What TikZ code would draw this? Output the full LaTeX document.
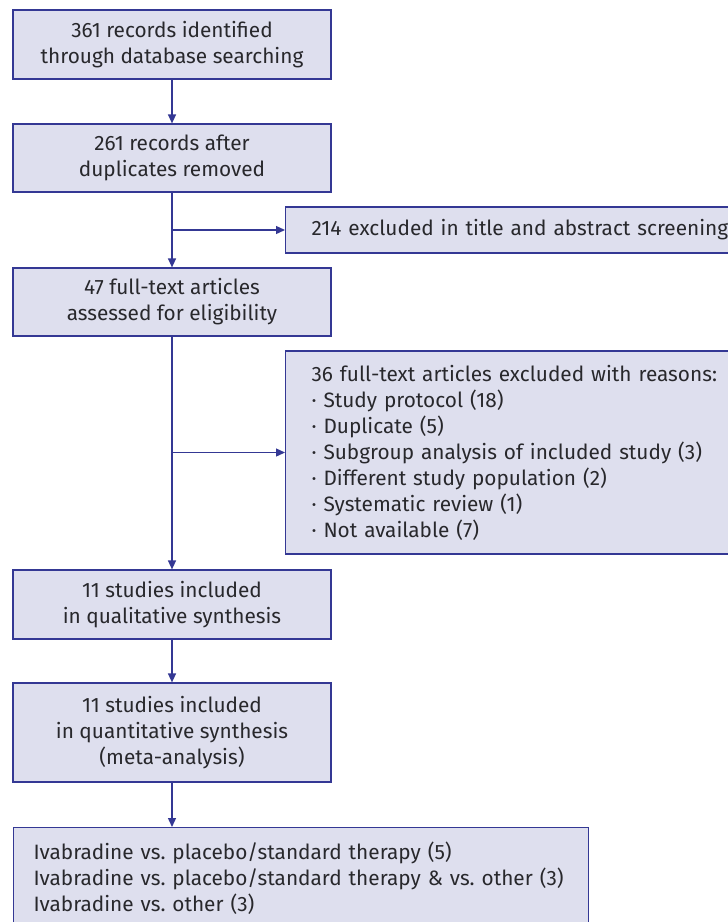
\documentclass[tikz,border=0pt]{standalone}
\usepackage{fontspec}
\setmainfont{Fira Sans}
\usetikzlibrary{arrows.meta, positioning}
\definecolor{boxfill}{RGB}{222,223,238}
\definecolor{boxline}{RGB}{52,56,148}
\definecolor{ink}{RGB}{40,40,44}
\frenchspacing

\begin{document}
\begin{tikzpicture}[
    x=1pt, y=-1pt,
    every node/.style={font=\fontsize{20.8}{26}\selectfont, text=ink},
    flowbox/.style={draw=boxline, line width=1.2pt, fill=boxfill, align=center, minimum width=318pt, inner sep=0pt},
    sidebox/.style={draw=boxline, line width=1.2pt, fill=boxfill, align=left, inner xsep=26pt, inner ysep=0pt, anchor=west},
    flow/.style={-{Triangle[length=9pt, width=8pt]}, draw=boxline, line width=1.3pt}
]
\clip (0,0) rectangle (728,922);
\node[flowbox, minimum height=69pt] (ident) at (172,44.5) {361 records identified\\through database searching};
\node[flowbox, minimum height=68pt] (dedup) at (172,158) {261 records after\\duplicates removed};
\node[sidebox, minimum height=46pt, text width=460pt] (screen) at (285,230) {214 excluded in title and abstract screening};
\node[flowbox, minimum height=68pt] (full) at (172,302) {47 full-text articles\\assessed for eligibility};
\node[sidebox, minimum height=203pt, text width=460pt] (reasons) at (285,452.5) {36 full-text articles excluded with reasons:\\
    · Study protocol (18)\\
    · Duplicate (5)\\
    · Subgroup analysis of included study (3)\\
    · Different study population (2)\\
    · Systematic review (1)\\
    · Not available (7)};
\node[flowbox, minimum height=69pt] (qual) at (172,604.5) {11 studies included\\in qualitative synthesis};
\node[flowbox, minimum height=99pt] (quant) at (172,732.5) {11 studies included\\in quantitative synthesis\\(meta-analysis)};
\node[sidebox, anchor=north west, inner xsep=20pt, minimum height=102pt, text width=535pt] (groups) at (13,827) {Ivabradine vs. placebo/standard therapy (5)\\
    Ivabradine vs. placebo/standard therapy \& vs. other (3)\\
    Ivabradine vs. other (3)};

\coordinate (split1) at (172,230);
\coordinate (split2) at (172,452.5);

\draw[flow] (ident) -- (dedup);
\draw[flow] (dedup) -- (full);
\draw[flow] (split1) -- (screen);
\draw[flow] (full) -- (qual);
\draw[flow] (split2) -- (reasons);
\draw[flow] (qual) -- (quant);
\draw[flow] (quant) -- (quant |- groups.north);
\end{tikzpicture}
\end{document}
